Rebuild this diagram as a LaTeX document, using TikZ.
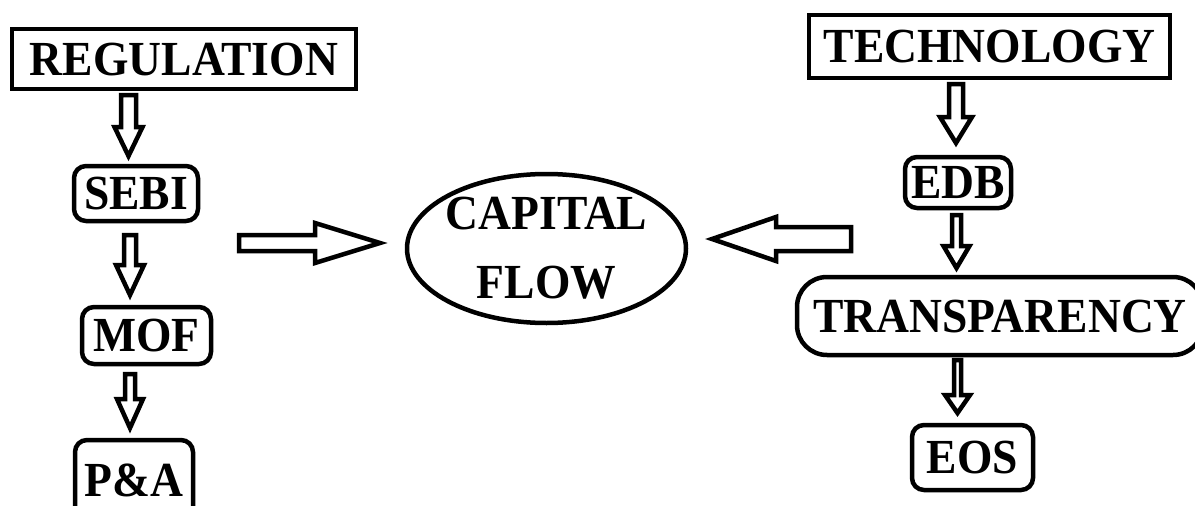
\documentclass[tikz,border=0pt]{standalone}
\usepackage{fontspec}
\newfontfamily\labfont{Liberation Serif}[FakeStretch=0.93]
\usetikzlibrary{shapes.geometric,calc}
\tikzset{
  box/.style={draw, line width=4.5pt, inner sep=0pt, outer sep=0pt,
    text height=32pt, text depth=0pt,
    font=\labfont\bfseries\fontsize{49}{59}\selectfont},
  sqbox/.style={box, rectangle},
  rbox/.style={box, rectangle, rounded corners=12pt},
  ovalbox/.style={draw, line width=4.5pt, ellipse, inner sep=-40pt, outer sep=0pt,
    align=center, font=\labfont\bfseries\fontsize{49}{69}\selectfont},
  blk/.style={draw, line width=4.5pt, fill=white, line join=miter},
}
% #1 start, #2 tip, #3 shaft half width, #4 head half width, #5 head length
\newcommand\blockarrow[5]{%
  \path coordinate (ba) at ($(#2)!#5!(#1)$);
  \draw[blk] ($(#1)!#3!90:(#2)$) -- ($(ba)!#3!90:(#2)$) -- ($(ba)!#4!90:(#2)$)
    -- (#2) -- ($(ba)!#4!-90:(#2)$) -- ($(ba)!#3!-90:(#2)$)
    -- ($(#1)!#3!-90:(#2)$) -- cycle;
}
\begin{document}
\begin{tikzpicture}[x=1pt,y=-1pt]
\useasboundingbox (0,0) rectangle (1195,506);
\fill[white] (0,0) rectangle (1195,506);
\clip (0,0) rectangle (1195,506);

% left column
\node[sqbox, minimum width=344pt, minimum height=60pt] (reg) at (184,59) {REGULATION};
\node[rbox, minimum width=124pt, minimum height=55pt] (sebi) at (136,193.5) {SEBI};
\node[rbox, minimum width=129pt, minimum height=57pt] (mof) at (146.5,335.5) {MOF};
\node[rbox, minimum width=118pt, minimum height=80pt] (pa) at (134,480) {P\&A};

% right column
\node[sqbox, minimum width=361pt, minimum height=63pt] (tech) at (989.5,46.5) {TECHNOLOGY};
\node[rbox, minimum width=106pt, minimum height=51pt] (edb) at (958,182.5) {EDB};
\node[rbox, rounded corners=30pt, minimum width=406pt, minimum height=78pt] (transp) at (1000,316) {TRANSPARENCY};
\node[rbox, minimum width=121pt, minimum height=65pt] (eos) at (972.5,457.5) {EOS};

% centre
\node[ovalbox, minimum width=279pt, minimum height=149pt] (cap) at (546.5,248.5) {CAPITAL\\FLOW};

% vertical block arrows, left
\coordinate (a1t) at ($(sebi.north)+(-7.5pt,10pt)$);
\coordinate (a1s) at ($(a1t |- reg.south)+(0,-6pt)$);
\blockarrow{a1s}{a1t}{7.5pt}{14pt}{29pt}
\coordinate (a2t) at ($(mof.north)+(-16.5pt,12pt)$);
\coordinate (a2s) at ($(a2t |- sebi.south)+(0,-14pt)$);
\blockarrow{a2s}{a2t}{6pt}{14pt}{30pt}
\coordinate (a3t) at ($(pa.north)+(-4pt,12pt)$);
\coordinate (a3s) at ($(a3t |- mof.south)+(0,-10pt)$);
\blockarrow{a3s}{a3t}{5pt}{13pt}{29pt}

% vertical block arrows, right
\coordinate (b1t) at ($(edb.north)+(-2pt,14pt)$);
\coordinate (b1s) at ($(b1t |- tech.south)+(0,-6pt)$);
\blockarrow{b1s}{b1t}{7pt}{16pt}{26pt}
\coordinate (b2t) at ($(transp.north)+(-43.5pt,9pt)$);
\coordinate (b2s) at ($(b2t |- edb.south)+(0,-7pt)$);
\blockarrow{b2s}{b2t}{4.5pt}{13pt}{22pt}
\coordinate (b3t) at ($(eos.north)+(-15pt,12pt)$);
\coordinate (b3s) at ($(b3t |- transp.south)+(0,-5pt)$);
\blockarrow{b3s}{b3t}{3.5pt}{12.5pt}{18pt}

% horizontal block arrows into capital flow
\coordinate (h1s) at (239,243);
\coordinate (h1t) at ($(cap.west)+(-27pt,5.5pt)$);
\blockarrow{h1s}{h1t}{8pt}{20pt}{65pt}
\coordinate (h2s) at (851,239);
\coordinate (h2t) at ($(cap.east)+(26pt,9.5pt)$);
\blockarrow{h2s}{h2t}{12pt}{22pt}{64pt}
\end{tikzpicture}
\end{document}
